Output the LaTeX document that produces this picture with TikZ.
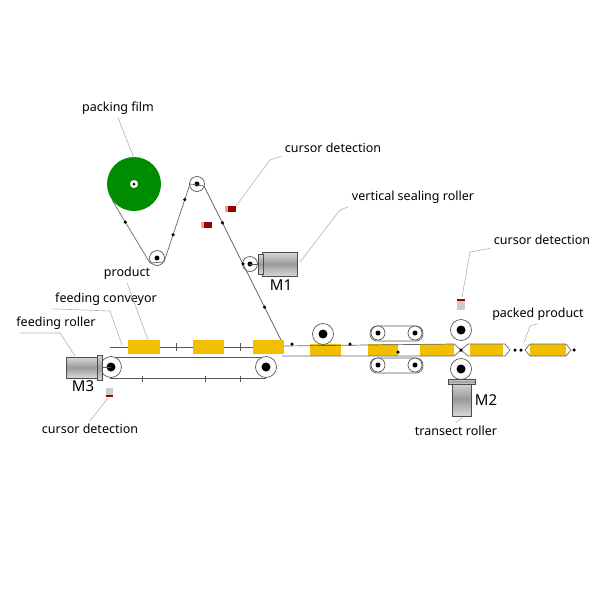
\documentclass[tikz,border=0pt]{standalone}
\usepackage{fontspec}
\setmainfont{Noto Sans}
\definecolor{gold}{HTML}{F0C000}
\begin{document}
\begin{tikzpicture}[x=1pt,y=-1pt,
  lbl/.style={font=\fontsize{12.5}{14}\selectfont},
  lead/.style={gray!60,line width=0.6pt},
  film/.style={gray!80!black,line width=0.7pt},
  roll/.style={circle,draw=gray!70!black,fill=white,line width=0.7pt,minimum size=#1,inner sep=0pt},
  hub/.style={circle,fill=black,minimum size=#1,inner sep=0pt},
  prod/.style={fill=gold,draw=none},
  dot/.style={circle,fill=black,minimum size=3.5pt,inner sep=0pt},
  motor/.style={top color=gray!30,bottom color=gray!30,middle color=gray!80,draw=gray!60!black,line width=0.4pt},
  mlbl/.style={font=\fontsize{15}{15}\selectfont}]
\useasboundingbox (0,0) rectangle (600,600);
% reel
\node[circle,fill=green!55!black,minimum size=54pt,inner sep=0pt] (reel) at (134,184) {};
\node[circle,fill=white,minimum size=8pt,inner sep=0pt] at (reel) {};
\node[hub=3pt] at (reel) {};
% rollers of film
\node[roll=15pt] (rt) at (197,184) {}; \node[hub=5pt] at (rt) {};
\node[roll=15pt] (rb) at (157,258) {}; \node[hub=5pt] at (rb) {};
\node[roll=15pt] (rm) at (250,264) {}; \node[hub=5pt] at (rm) {};
\coordinate (fe) at (284,346);
\draw[film] (112,200) -- node[dot,pos=0.35]{} (150,263) -- (164,262) -- node[dot,pos=0.35]{} node[dot,pos=0.8]{} (190,184) -- (204,186) -- node[dot,pos=0.45]{} node[dot,pos=0.95]{} (245,268) -- node[dot,pos=0.5]{} (fe);
% cursor marks
\fill[red!60!black] (201,222) rectangle (212,228);
\fill[red!60!black] (225,206) rectangle (236,212);
\fill[red!40] (201,222) rectangle (204,228); \fill[red!40] (225,206) rectangle (228,212);
% M1
\draw[motor] (262,252) rectangle (297,276);
\draw[motor] (258,254) rectangle (263,274);
\draw[gray!70!black] (257,264) -- (250,264);
\node[mlbl] (m1) at (281,285) {M1};
% conveyor
\draw[gray!70!black,line width=0.7pt] (110,357) -- (266,357) (110,378) -- (266,378);
\draw[gray!70!black,line width=0.7pt] (110,347) -- (282,347);
\foreach \x in {176,240} \draw[gray!70!black] (\x,343) -- (\x,351);
\foreach \x in {142,205,240} \draw[gray!70!black] (\x,376) -- (\x,382);
\fill[prod] (128,340) rectangle (160,354);
\fill[prod] (193,340) rectangle (224,354);
\fill[prod] (253,340) rectangle (284,354);
\node[roll=21pt] (fr) at (111,367) {}; \node[hub=9pt] at (fr) {};
\node[roll=21pt] (er) at (266,367) {}; \node[hub=9pt] at (er) {};
% M3
\draw[motor] (66,357) rectangle (98,378);
\draw[motor] (97,355) rectangle (102,380);
\draw[gray!70!black] (102,367) -- (111,367);
\node[mlbl] (m3) at (83,386) {M3};
\fill[gray!40] (106,388) rectangle (113,396); \fill[red!60!black] (106,395) rectangle (113,397);
% tube
\fill[prod] (310,344) rectangle (341,356);
\fill[prod] (368,344) rectangle (398,356);
\fill[prod] (420,344) rectangle (454,356);
\fill[prod] (470,344) rectangle (503,356);
\fill[prod] (530,344) rectangle (566,356);
\draw[film] (fe) -- (454,344) -- (461,350) -- (468,344) -- (505,344) -- (510,350) -- (505,356) -- (468,356) -- (461,350) -- (454,356) -- (282,356);
\draw[film] (530,344) -- (566,344) -- (571,350) -- (566,356) -- (530,356) -- (525,350) -- cycle;
\foreach \p in {(292,344),(350,344),(398,352),(461,350),(515,350),(521,350),(574,350)} \node[dot] at \p {};
\node[roll=21pt] (vs) at (323,334) {}; \node[hub=9pt] at (vs) {};
% belt pair
\draw[gray!70!black,line width=0.7pt,rounded corners=7pt] (370,326) rectangle (423,341);
\draw[gray!70!black,line width=0.7pt,rounded corners=7pt] (370,358) rectangle (423,373);
\foreach \x/\y in {378/333,415/333,378/365,415/365} {\node[roll=14pt] at (\x,\y) {}; \node[hub=5pt] at (\x,\y) {};}
% transect
\node[roll=21pt] (tt) at (461,330) {}; \node[hub=9pt] at (tt) {};
\node[roll=21pt] (tb) at (461,369) {}; \node[hub=9pt] at (tb) {};
\draw[motor] (452,382) rectangle (471,416);
\draw[motor] (448,379) rectangle (475,384);
\node[mlbl] (m2) at (486,400) {M2};
\fill[gray!40] (457,300) rectangle (465,310); \fill[red!60!black] (457,299) rectangle (465,301);
% labels
\node[lbl] (l1) at (118,108) {packing film};
\node[lbl] (l2) at (333,148) {cursor detection};
\node[lbl] (l3) at (413,197) {vertical sealing roller};
\node[lbl] (l4) at (542,240) {cursor detection};
\node[lbl] (l5) at (538,314) {packed product};
\node[lbl] (l6) at (127,273) {product};
\node[lbl] (l7) at (106,299) {feeding conveyor};
\node[lbl] (l8) at (56,323) {feeding roller};
\node[lbl] (l9) at (90,429) {cursor detection};
\node[lbl] (l10) at (456,431) {transect roller};
\draw[lead] (l1.south) -- (134,158);
\draw[lead] (l2.south west) -- (270,160) -- (236,206);
\draw[lead] (l3.south west) -- (340,210) -- (300,262);
\draw[lead] (l4.south west) -- (470,252) -- (462,297);
\draw[lead] (l5.south) -- (530,326) -- (524,343);
\draw[lead] (l6.south) -- (148,340);
\draw[lead] (l7.south west) -- (110,311) -- (122,345);
\draw[lead] (20,333) -- (60,333) -- (75,356);
\draw[lead] (l9.north) -- (108,398);
\draw[lead] (l10.north) -- (463,417);
\end{tikzpicture}
\end{document}
